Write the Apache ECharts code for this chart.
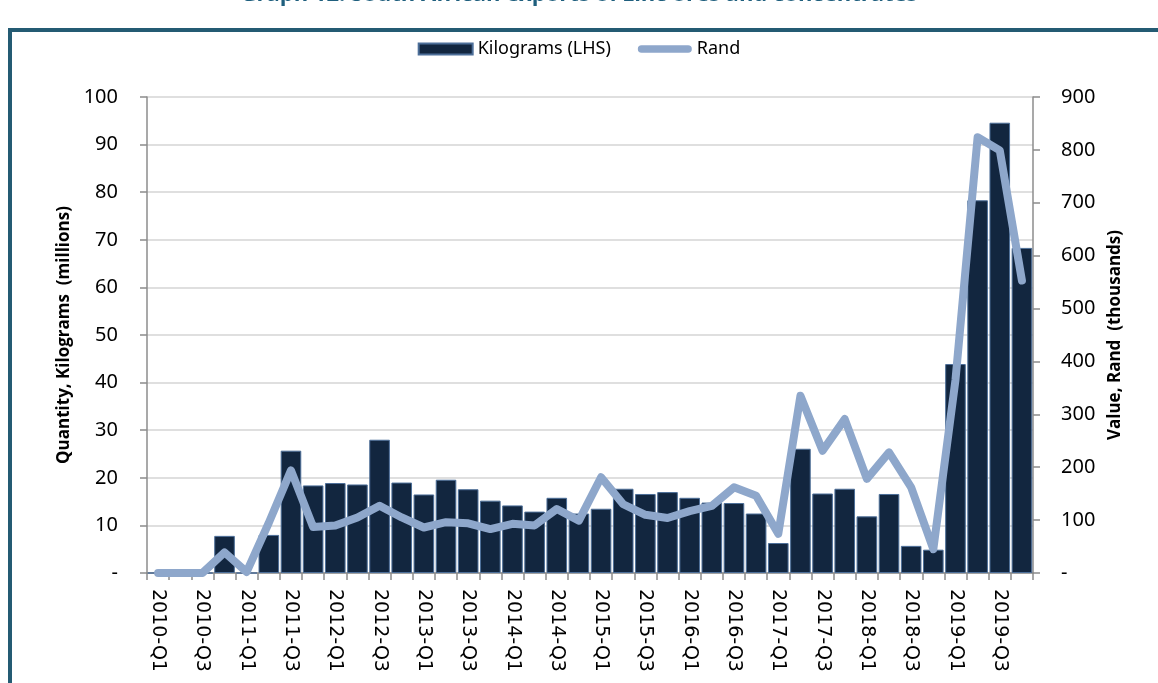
<!DOCTYPE html>
<html>
<head>
<meta charset="utf-8">
<script src="https://cdn.jsdelivr.net/npm/echarts@6/dist/echarts.min.js"></script>
<style>
  html, body { margin: 0; padding: 0; background: #fff; }
  #chart { width: 1158px; height: 683px; }
</style>
</head>
<body>
<div id="chart"></div>
<script>
const quarters = [
  '2010-Q1', '2010-Q2', '2010-Q3', '2010-Q4',
  '2011-Q1', '2011-Q2', '2011-Q3', '2011-Q4',
  '2012-Q1', '2012-Q2', '2012-Q3', '2012-Q4',
  '2013-Q1', '2013-Q2', '2013-Q3', '2013-Q4',
  '2014-Q1', '2014-Q2', '2014-Q3', '2014-Q4',
  '2015-Q1', '2015-Q2', '2015-Q3', '2015-Q4',
  '2016-Q1', '2016-Q2', '2016-Q3', '2016-Q4',
  '2017-Q1', '2017-Q2', '2017-Q3', '2017-Q4',
  '2018-Q1', '2018-Q2', '2018-Q3', '2018-Q4',
  '2019-Q1', '2019-Q2', '2019-Q3', '2019-Q4'
]

// millions of kilograms (left axis)
const kilograms = [
  0, 0, 0, 7.8,
  0, 8.0, 25.7, 18.4,
  18.9, 18.6, 28.0, 19.0,
  16.5, 19.6, 17.6, 15.2,
  14.2, 12.9, 15.8, 12.5,
  13.5, 17.7, 16.6, 17.0,
  15.8, 14.8, 14.7, 12.5,
  6.3, 26.1, 16.7, 17.7,
  11.9, 16.6, 5.7, 4.9,
  43.9, 78.3, 94.6, 68.3
]

// thousands of rand (right axis)
const rand = [
  0, 0, 0, 39,
  2, 95, 194, 87,
  90, 105, 127, 105,
  86, 96, 94, 83,
  93, 90, 121, 99,
  181, 130, 110, 104,
  117, 127, 162, 146,
  74, 335, 231, 291,
  178, 228, 162, 45,
  365, 824, 799, 553
]

const chart = echarts.init(document.getElementById('chart'))

const tickFont = { fontFamily: 'Noto Sans', fontSize: 20, color: '#000' }
const axisGrey = { color: '#8c8c8c', width: 1.5 }
const titleFont = { fontFamily: 'Open Sans', fontWeight: 'bold', fontSize: 17, color: '#000' }
const dash = v => (v === 0 ? '-' : v)

chart.setOption({
  animation: false,
  graphic: [
    {
      type: 'text',
      left: 'center',
      top: -16,
      style: {
        text: 'Graph 12: South African exports of zinc ores and concentrates',
        fontFamily: 'Open Sans',
        fontWeight: 'bold',
        fontSize: 22,
        fill: '#1f5f7e'
      }
    },
    {
      type: 'rect',
      shape: { x: 10, y: 30, width: 1300, height: 800 },
      style: { fill: 'none', stroke: '#245b73', lineWidth: 4 },
      silent: true
    }
  ],
  legend: {
    top: 35,
    left: 'center',
    itemWidth: 54,
    itemHeight: 11,
    itemGap: 27,
    textStyle: { fontFamily: 'Noto Sans', fontSize: 18, color: '#000' },
    data: [
      { name: 'Kilograms (LHS)', icon: 'rect' },
      { name: 'Rand', icon: 'path://M4,0 H54 A4,4 0 0 1 54,8 H4 A4,4 0 0 1 4,0 Z' }
    ]
  },
  grid: { left: 147, right: 125, top: 97, bottom: 110 },
  xAxis: {
    type: 'category',
    data: quarters,
    boundaryGap: true,
    axisLine: { lineStyle: axisGrey },
    axisTick: { show: true, interval: 0, length: 7, lineStyle: axisGrey },
    axisLabel: {
      interval: 1,
      rotate: -90,
      margin: 16,
      fontFamily: 'DejaVu Sans',
      fontSize: 19,
      color: '#000'
    }
  },
  yAxis: [
    {
      type: 'value',
      min: 0,
      max: 100,
      interval: 10,
      name: 'Quantity, Kilograms  (millions)',
      nameLocation: 'middle',
      nameRotate: 90,
      nameGap: 74,
      nameTextStyle: titleFont,
      axisLine: { show: true, lineStyle: axisGrey },
      axisTick: { show: true, length: 7, lineStyle: axisGrey },
      axisLabel: { ...tickFont, margin: 29, formatter: dash },
      splitLine: { lineStyle: { color: '#d4d4d4', width: 1.5 } }
    },
    {
      type: 'value',
      min: 0,
      max: 900,
      interval: 100,
      name: 'Value, Rand  (thousands)',
      nameLocation: 'middle',
      nameRotate: 90,
      nameGap: 72,
      nameTextStyle: titleFont,
      axisLine: { show: true, lineStyle: axisGrey },
      axisTick: { show: true, length: 7, lineStyle: axisGrey },
      axisLabel: { ...tickFont, margin: 28, formatter: dash },
      splitLine: { show: false }
    }
  ],
  series: [
    {
      name: 'Kilograms (LHS)',
      type: 'bar',
      yAxisIndex: 0,
      data: kilograms,
      barCategoryGap: '7%',
      itemStyle: { color: '#12263f', borderColor: '#4d6f99', borderWidth: 1 }
    },
    {
      name: 'Rand',
      type: 'line',
      yAxisIndex: 1,
      data: rand,
      showSymbol: false,
      symbol: 'none',
      z: 5,
      lineStyle: { color: '#8ea7cb', width: 8, cap: 'round', join: 'round' },
      itemStyle: { color: '#8ea7cb' }
    }
  ]
})
</script>
</body>
</html>
